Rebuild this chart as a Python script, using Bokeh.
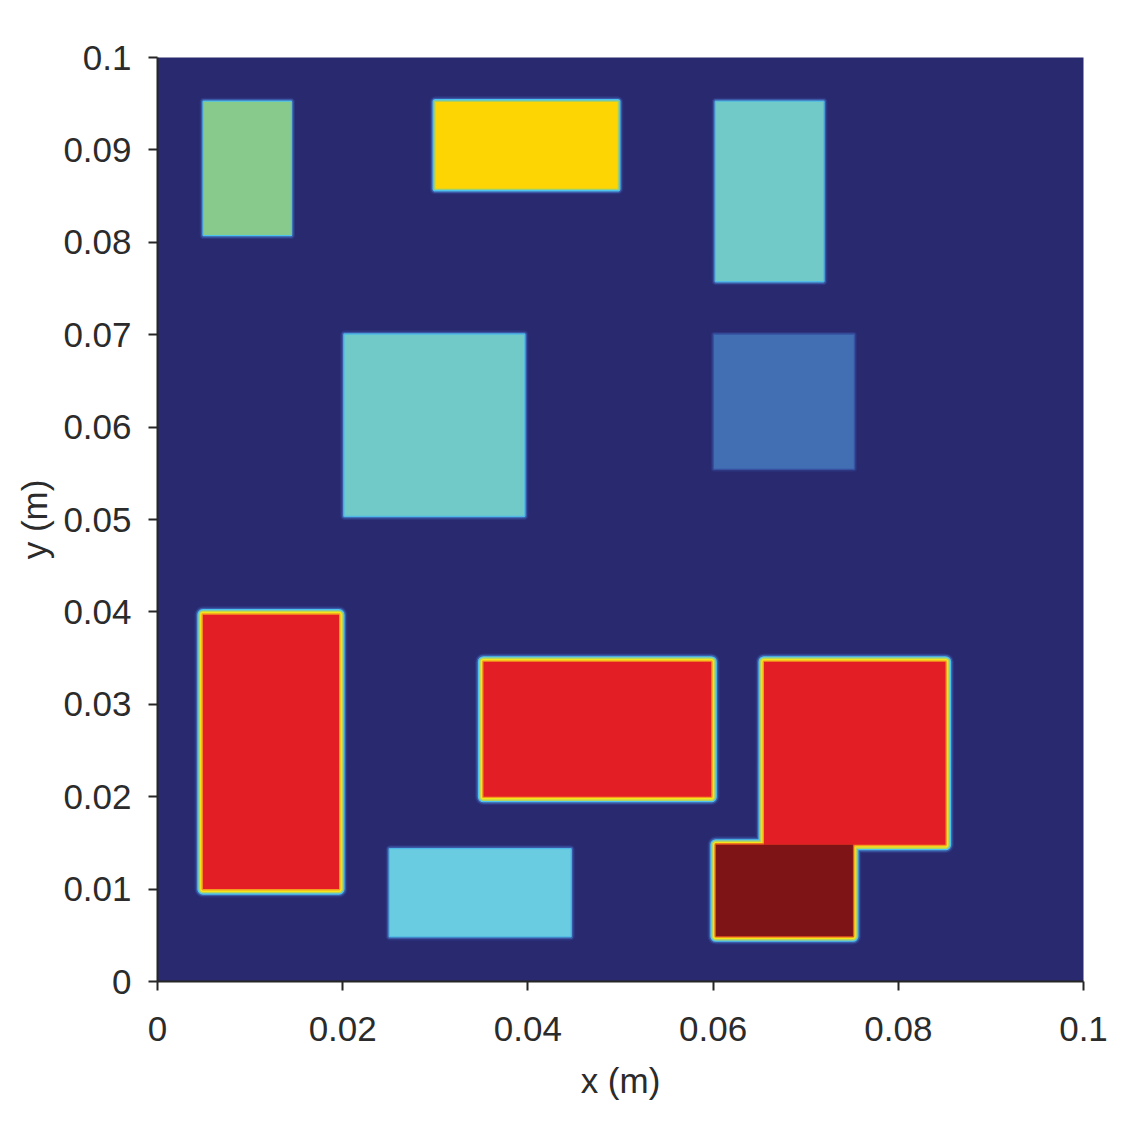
from bokeh.plotting import figure
from bokeh.models import Range1d, FixedTicker, ColumnDataSource
from bokeh.embed import file_html
from bokeh.resources import INLINE

# ---- data: rectangular regions of the field (m) and their material level ----
region_x0 = [0.0050, 0.0300, 0.0603, 0.0202, 0.0601, 0.0049, 0.0352, 0.0655, 0.0603, 0.0251]
region_x1 = [0.0144, 0.0497, 0.0719, 0.0396, 0.0752, 0.0196, 0.0598, 0.0851, 0.0751, 0.0446]
region_y0 = [0.0808, 0.0858, 0.0758, 0.0504, 0.0555, 0.0100, 0.0200, 0.0148, 0.0049, 0.0049]
region_y1 = [0.0952, 0.0952, 0.0952, 0.0700, 0.0700, 0.0397, 0.0346, 0.0346, 0.0148, 0.0143]
region_level = ["green", "yellow", "teal", "teal", "blue", "red", "red", "red", "darkred", "cyan"]

x_ticks = [0, 0.02, 0.04, 0.06, 0.08, 0.1]
x_tick_labels = ["0", "0.02", "0.04", "0.06", "0.08", "0.1"]
y_ticks = [0, 0.01, 0.02, 0.03, 0.04, 0.05, 0.06, 0.07, 0.08, 0.09, 0.1]
y_tick_labels = ["0", "0.01", "0.02", "0.03", "0.04", "0.05", "0.06", "0.07", "0.08", "0.09", "0.1"]

# ---- styles ----
BG = "#28296F"
FILL = {
    "green": "#88C98C", "yellow": "#FCD503", "teal": "#72CAC8", "blue": "#426EB4",
    "red": "#E31E24", "darkred": "#7E1416", "cyan": "#6ACCE0",
}
# edge ramps from outermost to innermost
RAMP = {
    "blue":    ["#2E3680", "#3652A0"],
    "cyan":    ["#2E3680", "#3A58A6", "#4FB8E6"],
    "teal":    ["#2E3680", "#3A58A6", "#4FB8E6"],
    "green":   ["#2E3680", "#3A58A6", "#4FC2EE"],
    "yellow":  ["#2E3680", "#3A58A6", "#4FC2EE", "#9DCF75"],
    "red":     ["#2E3680", "#3A5CA8", "#4FC3EE", "#B5D55E", "#F6E51B", "#F39A1F"],
    "darkred": ["#2E3680", "#3A5CA8", "#4FC3EE", "#B5D55E", "#F6E51B", "#E8571F"],
}
STEP_PX = 1.4
TXT = "#2B2B2B"
FONT = "Liberation Sans"

p = figure(
    frame_width=926, frame_height=924,
    min_border_left=157, min_border_top=57, min_border_right=27, min_border_bottom=130,
    x_range=Range1d(0, 0.1), y_range=Range1d(0, 0.1),
    output_backend="svg", toolbar_location=None,
)
p.background_fill_color = BG
p.border_fill_color = "white"
p.outline_line_color = None
p.grid.visible = False

# edge gradients (drawn as round-joined outlines, outermost first)
max_d = max(len(r) for r in RAMP.values())
for d in range(max_d, 0, -1):
    xs0, xs1, ys0, ys1, cols = [], [], [], [], []
    for a, b, c, e, lev in zip(region_x0, region_x1, region_y0, region_y1, region_level):
        ramp = RAMP[lev]
        if len(ramp) >= d:
            xs0.append(a); xs1.append(b); ys0.append(c); ys1.append(e)
            cols.append(ramp[len(ramp) - d])
    src = ColumnDataSource(dict(left=xs0, right=xs1, bottom=ys0, top=ys1, color=cols))
    p.quad(left="left", right="right", bottom="bottom", top="top", source=src,
           fill_color=None, line_color="color", line_width=2 * STEP_PX * d, line_join="round")

fills = ColumnDataSource(dict(left=region_x0, right=region_x1, bottom=region_y0, top=region_y1,
                              color=[FILL[l] for l in region_level]))
p.quad(left="left", right="right", bottom="bottom", top="top", source=fills,
       fill_color="color", line_color=None)

p.xaxis.ticker = FixedTicker(ticks=x_ticks)
p.yaxis.ticker = FixedTicker(ticks=y_ticks)
p.xaxis.major_label_overrides = dict(zip(x_ticks, x_tick_labels))
p.yaxis.major_label_overrides = dict(zip(y_ticks, y_tick_labels))
p.xaxis.axis_label = "x (m)"
p.yaxis.axis_label = "y (m)"

for ax in (p.xaxis, p.yaxis):
    ax.axis_line_color = "#262626"
    ax.axis_line_width = 2
    ax.major_tick_line_color = "#262626"
    ax.major_tick_line_width = 2
    ax.major_tick_out = 9
    ax.major_tick_in = 0
    ax.minor_tick_line_color = None
    ax.major_label_text_font = FONT
    ax.major_label_text_font_size = "35px"
    ax.major_label_text_color = TXT
    ax.axis_label_text_font = FONT
    ax.axis_label_text_font_size = "35px"
    ax.axis_label_text_font_style = "normal"
    ax.axis_label_text_color = TXT

p.xaxis.major_label_standoff = 26
p.yaxis.major_label_standoff = 17
p.xaxis.axis_label_standoff = 17
p.yaxis.axis_label_standoff = 6

open("out.html", "w").write(file_html(p, INLINE))
